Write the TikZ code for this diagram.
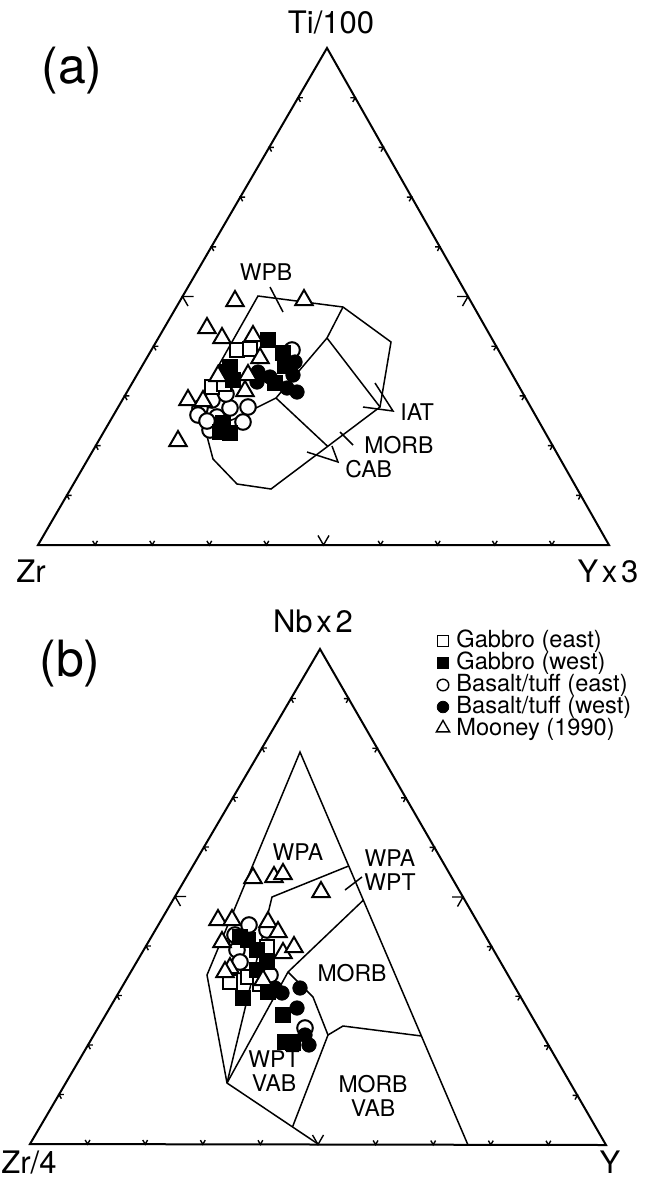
\documentclass[tikz,border=0pt]{standalone}
\usepackage{fontspec}
\setmainfont{TeX Gyre Heros}
\usetikzlibrary{calc}
\usetikzlibrary{shapes.geometric}

\tikzset{
  side/.style={line width=1pt},
  field/.style={line width=0.75pt},
  tick/.style={line width=0.7pt},
  gabE/.style={draw,fill=white,rectangle,minimum size=7.4pt,inner sep=0pt,line width=1pt},
  gabW/.style={draw,fill=black,rectangle,minimum size=7.6pt,inner sep=0pt},
  basE/.style={draw,fill=white,circle,minimum size=7.8pt,inner sep=0pt,line width=1pt},
  basW/.style={draw,fill=black,circle,minimum size=7.2pt,inner sep=0pt},
  moon/.style={draw,fill=white,regular polygon,regular polygon sides=3,minimum size=10pt,inner sep=0pt,line width=1pt},
  lbl/.style={font=\fontsize{15.5}{15.5}\selectfont,anchor=base,inner sep=0pt},
  fld/.style={font=\fontsize{11.5}{12}\selectfont,align=center,inner sep=0pt},
  panel/.style={font=\fontsize{25}{25}\selectfont,inner sep=0pt},
  key/.style={font=\fontsize{11.8}{11.8}\selectfont,anchor=west,inner sep=0pt}
}

% narrow space used in the corner labels
\newcommand{\nsp}{\hspace{0.12em}}

% ticks on the three sides of a ternary frame: left, right, top corner
\newcommand{\ternticks}[3]{%
  \foreach \k in {1,...,9} {
    \pgfmathsetmacro\tl{\k==5 ? 5.5 : 2.4}
    \draw[tick] ($(#1)!\k/10!(#2)$) ++(-\tl,{-1.73*\tl}) -- ++(\tl,{1.73*\tl}) -- ++(\tl,{-1.73*\tl});
    \draw[tick] ($(#1)!\k/10!(#3)$) ++({2*\tl},0) -- ++({-2*\tl},0) -- ++(\tl,{1.73*\tl});
    \draw[tick] ($(#2)!\k/10!(#3)$) ++({-2*\tl},0) -- ++({2*\tl},0) -- ++(-\tl,{1.73*\tl});
  }
}

\begin{document}
\begin{tikzpicture}[x=0.5pt,y=-0.5pt]
  \useasboundingbox (0,0) rectangle (652,1180);

  % ----- panel (a): Ti-Zr-Y -----
  \coordinate (Za) at (38,545);
  \coordinate (Ya) at (609,545);
  \coordinate (Ta) at (327,48);
  \draw[side] (Za) -- (Ya) -- (Ta) -- cycle;
  \ternticks{Za}{Ya}{Ta}

  \node[panel] (pa) at (72,71) {(a)};
  \node[lbl] (ti) at (331,33) {Ti/100};
  \node[lbl] (zr) at (31,582) {Zr};
  \node[lbl] (y3) at (608,582) {Y\nsp x\nsp 3};

  % field boundaries
  \coordinate (a1) at (258,296);
  \coordinate (a2) at (343,307);
  \coordinate (a3) at (391,342);
  \coordinate (a4) at (380,407);
  \coordinate (a5) at (271,489);
  \coordinate (a6) at (237,484);
  \coordinate (a7) at (213,459);
  \coordinate (a8) at (198,402);
  \coordinate (ja) at (327,338);
  \coordinate (wa) at (276,398);
  \draw[field] (a1) -- (a2) -- (a3) -- (a4) -- (a5) -- (a6) -- (a7) -- (a8) -- cycle;
  \draw[field] (a2) -- (ja) -- (a4);
  \draw[field] (ja) -- (wa) -- (234,419) -- ($(a8)!0.5!(a7)$);
  \draw[field] (wa) -- ($(a4)!0.48!(a5)$);

  % field labels
  \node[fld] (wpb) at (266,272) {WPB};
  \node[fld,anchor=west] (iat) at (400,412) {IAT};
  \node[fld,anchor=west] (morba) at (364,445) {MORB};
  \node[fld,anchor=west] (cab) at (345,469) {CAB};
  \draw[field] (270,287) -- (283,312);
  \draw[field] (363,407) -- (393,411) -- (375,383);
  \draw[field] (340,432) -- (353,445);
  \draw[field] (307,452) -- (338,462) -- (332,446);

  % data (a)
  \foreach \x/\y [count=\i] in {292/350,200/408,212/400,230/408,248/407,210/430,243/422,198/415,217/417,207/421,226/394}
    \node[basE] (ca\i) at (\x,\y) {};
  \foreach \x/\y [count=\i] in {237/350,250/349,212/387,224/384}
    \node[gabE] (sa\i) at (\x,\y) {};
  \foreach \x/\y [count=\i] in {268/340,283/353,230/367,233/380,275/383,223/423,230/433,220/432,285/366,226/372}
    \node[gabW] (qa\i) at (\x,\y) {};
  \foreach \x/\y [count=\i] in {295/362,258/372,257/382,297/392,287/388,293/375,270/377}
    \node[basW] (da\i) at (\x,\y) {};
  \foreach \x/\y [count=\i] in {235/301,304/300,207/328,222/338,253/336,260/358,218/376,248/375,245/391,188/400,203/401,178/441}
    \node[moon] (ma\i) at (\x,\y) {};

  % ----- panel (b): Nb-Zr-Y -----
  \coordinate (Zb) at (30,1144);
  \coordinate (Yb) at (606,1145);
  \coordinate (Nb) at (320,649);
  \draw[side] (Zb) -- (Yb) -- (Nb) -- cycle;
  \ternticks{Zb}{Yb}{Nb}

  \node[panel] (pb) at (70,664) {(b)};
  \node[lbl] (nb2) at (313,632) {Nb\nsp x\nsp 2};
  \node[lbl] (zr4) at (29,1173) {Zr/4};
  \node[lbl] (yy) at (610,1173) {Y};

  % field boundaries
  \coordinate (b0) at (300,752);
  \coordinate (b1) at (207,975);
  \coordinate (b2) at (227,1083);
  \coordinate (b3) at (318,1144);
  \coordinate (b4) at (468,1145);
  \coordinate (b5) at (272,897);
  \coordinate (b6) at (288,972);
  \coordinate (b7) at (313,997);
  \coordinate (b8) at (328,1035);
  \coordinate (b9) at (343,1026);
  \draw[field] (b3) -- (b2) -- (b1) -- (b0) -- (b4);
  \draw[field] ($(b0)!0.29!(b4)$) -- (b5) -- (b2);
  \draw[field] ($(b0)!0.377!(b4)$) -- (b6) -- (b2);
  \draw[field] (b6) -- (b7) -- (b8) -- ($(b2)!0.72!(b3)$);
  \draw[field] (b8) -- (b9) -- ($(b0)!0.7226!(b4)$);

  % field labels
  \node[fld] (wpa) at (298,852) {WPA};
  \node[fld] (wpaw) at (390,870) {WPA\\WPT};
  \draw[field] (345,890) -- (362,877);
  \node[fld] (morbb) at (352,973) {MORB};
  \node[fld] (wptv) at (274,1071) {WPT\\VAB};
  \node[fld] (morbv) at (373,1096) {MORB\\VAB};

  % data (b)
  \foreach \x/\y [count=\i] in {249/925,237/943,237/950,240/962,270/975,267/930,305/1028,235/935}
    \node[basE] (cb\i) at (\x,\y) {};
  \foreach \x/\y [count=\i] in {267/947,230/982,248/977,260/984}
    \node[gabE] (sb\i) at (\x,\y) {};
  \foreach \x/\y [count=\i] in {240/937,248/940,257/950,267/962,257/970,243/998,268/992,283/1015,285/1042,293/1043,290/1042}
    \node[gabW] (qb\i) at (\x,\y) {};
  \foreach \x/\y [count=\i] in {300/988,297/1008,282/993,305/1035,309/1045,275/988}
    \node[basW] (db\i) at (\x,\y) {};
  \foreach \x/\y [count=\i] in {253/878,274/877,283/874,321/892,218/920,232/920,268/922,278/932,222/942,283/953,294/947,230/968,263/980,225/972}
    \node[moon] (mb\i) at (\x,\y) {};

  % legend
  \node[gabE,minimum size=5.4pt,line width=0.7pt] (k1) at (443,641) {};
  \node[gabW,minimum size=5.4pt] (k2) at (443,663) {};
  \node[basE,minimum size=5.8pt,line width=0.7pt] (k3) at (443,685) {};
  \node[basW,minimum size=5.8pt] (k4) at (443,707) {};
  \node[moon,minimum size=7.6pt,line width=0.7pt] (k5) at (443,728) {};
  \node[key] (t1) at (456,641) {Gabbro (east)};
  \node[key] (t2) at (456,663) {Gabbro (west)};
  \node[key] (t3) at (456,685) {Basalt/tuff (east)};
  \node[key] (t4) at (456,707) {Basalt/tuff (west)};
  \node[key] (t5) at (456,729) {Mooney (1990)};

\end{tikzpicture}
\end{document}
